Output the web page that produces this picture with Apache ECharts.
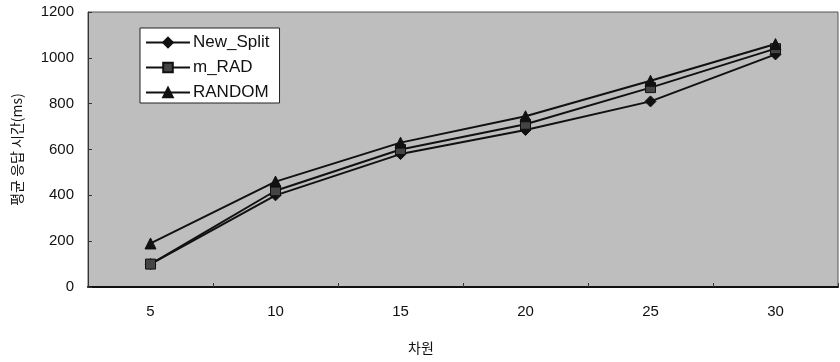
<!DOCTYPE html>
<html>
<head>
<meta charset="utf-8">
<script src="https://cdn.jsdelivr.net/npm/echarts@6/dist/echarts.min.js"></script>
<style>
  html, body { margin: 0; padding: 0; background: #fff; }
  #chart { width: 840px; height: 362px; }
</style>
</head>
<body>
<div id="chart"></div>
<script>
// Dimension counts on the x axis
const dimensions = ['5', '10', '15', '20', '25', '30'];

// Average response time (ms) per method
const newSplit = [100, 400, 580, 685, 810, 1015];
const mRad = [100, 420, 600, 710, 870, 1040];
const randomSel = [190, 460, 630, 745, 900, 1060];

const yTicks = { min: 0, max: 1200, interval: 200 };

const labelFont = { fontFamily: 'Liberation Sans, Arial, sans-serif', fontSize: 15, color: '#111' };

const chart = echarts.init(document.getElementById('chart'), null, { renderer: 'canvas' });

function lineSeries(name, data, symbol, size, color) {
  return {
    name: name,
    type: 'line',
    data: data,
    symbol: symbol,
    symbolSize: size,
    showAllSymbol: true,
    lineStyle: { color: '#111', width: 2 },
    itemStyle: { color: color, borderColor: '#111', borderWidth: 1 },
    emphasis: { disabled: true },
    z: 3
  };
}

chart.setOption({
  animation: false,
  backgroundColor: '#ffffff',
  grid: {
    left: 88, right: 2, top: 12, bottom: 75,
    show: true,
    backgroundColor: '#bebebe',
    borderColor: '#555',
    borderWidth: 1
  },
  legend: {
    left: 140, top: 28,
    orient: 'vertical',
    itemGap: 8,
    itemWidth: 44,
    itemHeight: 12,
    padding: [6, 10, 2, 5],
    backgroundColor: '#ffffff',
    borderColor: '#222',
    borderWidth: 1,
    textStyle: {
      fontFamily: 'Liberation Sans, Arial, sans-serif',
      fontSize: 17,
      lineHeight: 16,
      color: '#111',
      padding: [0, 0, 0, -2]
    },
    data: ['New_Split', 'm_RAD', 'RANDOM']
  },
  xAxis: {
    type: 'category',
    data: dimensions,
    boundaryGap: true,
    name: '차원',
    nameLocation: 'middle',
    nameGap: 54,
    nameTextStyle: {
      fontFamily: 'Noto Sans CJK KR, sans-serif',
      fontSize: 14,
      color: '#111',
      padding: [0, 84, 0, 0]
    },
    axisLine: { show: true, lineStyle: { color: '#111', width: 2 } },
    axisTick: { show: true, inside: true, length: 4, lineStyle: { color: '#333' } },
    axisLabel: Object.assign({ margin: 17 }, labelFont),
    splitLine: { show: false }
  },
  yAxis: {
    type: 'value',
    min: yTicks.min,
    max: yTicks.max,
    interval: yTicks.interval,
    name: '평균 응답 시간(ms)',
    nameLocation: 'middle',
    nameGap: 64,
    nameRotate: 90,
    nameTextStyle: { fontFamily: 'Noto Sans CJK KR, sans-serif', fontSize: 14, color: '#111' },
    axisLine: { show: true, lineStyle: { color: '#333', width: 1 } },
    axisTick: { show: true, inside: true, length: 4, lineStyle: { color: '#333' } },
    axisLabel: Object.assign({ margin: 14, formatter: (v) => String(v) }, labelFont),
    splitLine: { show: false }
  },
  series: [
    lineSeries('New_Split', newSplit, 'diamond', 11, '#111'),
    lineSeries('m_RAD', mRad, 'rect', 10, '#444'),
    lineSeries('RANDOM', randomSel, 'triangle', 11, '#111')
  ]
});
</script>
</body>
</html>
